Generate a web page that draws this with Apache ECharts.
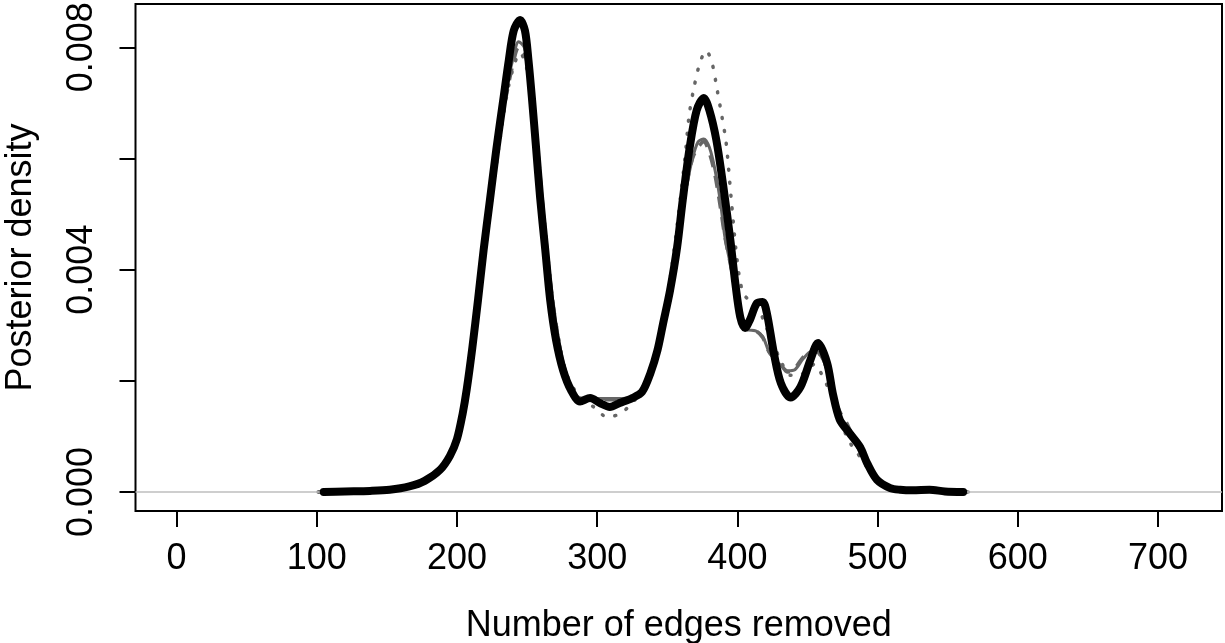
<!DOCTYPE html>
<html>
<head>
<meta charset="utf-8">
<script src="https://cdn.jsdelivr.net/npm/echarts@6/dist/echarts.min.js"></script>
<style>
  html, body { margin: 0; padding: 0; background: #fff; }
  #chart { width: 1225px; height: 643px; }
</style>
</head>
<body>
<div id="chart"></div>
<script>
// posterior density of number of edges removed — four estimates, one bold

// ── data ────────────────────────────────────────────────────────────
const xTicks  = [0, 100, 200, 300, 400, 500, 600, 700];
const yTicks  = [0, 0.002, 0.004, 0.006, 0.008];
const yLabels = [0, 0.004, 0.008];

// bold black curve
const boldCurve = [
  [105, 0], [120, 0.00001], [138, 0.00002], [152, 0.00004], [166, 0.0001],
  [177, 0.0002], [188, 0.0004], [195, 0.00065], [200, 0.00095], [204, 0.0014],
  [207, 0.00185], [211, 0.0026], [215, 0.00345], [219, 0.00435], [223.5, 0.00525],
  [228, 0.00615], [233, 0.00705], [237, 0.00777], [240.5, 0.0083], [245, 0.00849],
  [248.5, 0.0083], [251, 0.00777], [253.6, 0.00705], [256.4, 0.0062], [259.3, 0.0053],
  [263, 0.00435], [266.5, 0.00345], [270.7, 0.00273], [275.7, 0.00219], [281.4, 0.00183],
  [287.8, 0.00163], [295, 0.00169], [302, 0.0016], [309, 0.00153],
  [316, 0.0016], [325, 0.00169], [332, 0.0018], [338, 0.00214], [343, 0.00255],
  [347, 0.00303], [352, 0.00363], [357, 0.0044], [361, 0.00525], [366, 0.0062],
  [371, 0.00687], [376, 0.00709], [380, 0.00687], [385, 0.00633], [390, 0.00549],
  [395, 0.00453], [398.5, 0.00376], [402, 0.00315], [405.5, 0.00295], [409, 0.0031],
  [414, 0.0034], [418, 0.00342], [421, 0.00322], [426, 0.0025], [431, 0.00196],
  [438, 0.0017], [445, 0.00189], [452, 0.00237], [457.5, 0.00268], [464, 0.00232],
  [468, 0.00178], [473, 0.0013], [480, 0.00106], [487.5, 0.00081], [492.5, 0.00052],
  [499.5, 0.00022], [509, 0.00007], [516, 0.00004], [525, 0.00003], [537, 0.00004],
  [548, 0.00001], [561, 0],
];

// thin grey solid curve
const greySolid = [
  [101, 0], [120, 0.00001], [140, 0.00002], [155, 0.00005], [168, 0.00011],
  [178, 0.00022], [188, 0.00042], [195, 0.0007], [200, 0.001], [205, 0.0016],
  [210, 0.0025], [215, 0.0035], [220, 0.0045], [225, 0.0055], [230, 0.0064],
  [235, 0.0072], [240, 0.0078], [244, 0.0081], [248, 0.008], [252, 0.0075],
  [256, 0.0066], [260, 0.0055], [264, 0.0044], [268, 0.0035], [272, 0.0028],
  [276, 0.0023], [281, 0.0019], [287, 0.0017], [295, 0.00168], [305, 0.00168],
  [315, 0.00168], [325, 0.0017], [332, 0.0018], [338, 0.00212], [343, 0.00253],
  [348, 0.0031], [353, 0.0038], [358, 0.0046], [363, 0.0054], [368, 0.006],
  [372, 0.0063], [376, 0.00635], [380, 0.0062], [384, 0.0058], [388, 0.0052],
  [391, 0.0046], [395, 0.0041], [399, 0.0036], [403, 0.0031], [407, 0.00292],
  [413, 0.0029], [418, 0.0028], [423, 0.0025], [430, 0.0023], [436, 0.00218],
  [441, 0.0022], [447, 0.0024], [453, 0.00253], [458, 0.0025], [464, 0.0022],
  [469, 0.0017], [474, 0.0013], [480, 0.0011], [487, 0.0008], [493, 0.0005],
  [500, 0.00022], [510, 0.00007], [520, 0.00004], [535, 0.00004], [550, 0.00001],
  [565, 0],
];

// grey dashed curve
const greyDashed = [
  [101, 0], [120, 0.00001], [140, 0.00002], [155, 0.00005], [168, 0.0001],
  [178, 0.0002], [188, 0.0004], [195, 0.00068], [200, 0.001], [205, 0.0016],
  [210, 0.0025], [215, 0.0035], [220, 0.0045], [225, 0.0055], [230, 0.0064],
  [235, 0.0071], [240, 0.0077], [244, 0.008], [248, 0.0079], [252, 0.0075],
  [256, 0.0066], [260, 0.0055], [264, 0.0044], [268, 0.0035], [272, 0.0028],
  [276, 0.0023], [281, 0.0019], [287, 0.0017], [295, 0.0017], [305, 0.00166],
  [315, 0.00166], [325, 0.0017], [332, 0.0018], [338, 0.00212], [343, 0.00253],
  [348, 0.0031], [353, 0.0038], [358, 0.0046], [363, 0.0054], [368, 0.006],
  [372, 0.0062], [376, 0.0063], [380, 0.0061], [384, 0.0057], [388, 0.0051],
  [391, 0.0046], [395, 0.0041], [399, 0.0036], [403, 0.0031], [407, 0.00292],
  [413, 0.0029], [418, 0.00278], [423, 0.0025], [430.5, 0.00232], [435.5, 0.00216],
  [440, 0.0022], [447, 0.00243], [453, 0.00255], [458, 0.0025], [464, 0.0022],
  [469, 0.0017], [474, 0.0014], [478, 0.00124], [484, 0.0009], [490, 0.0006],
  [498, 0.00025], [510, 0.00007], [520, 0.00004], [535, 0.00004], [550, 0.00001],
  [565, 0],
];

// grey dotted curve
const greyDotted = [
  [101, 0], [120, 0.00001], [140, 0.00002], [155, 0.00005], [168, 0.0001],
  [178, 0.0002], [188, 0.0004], [196, 0.0007], [201, 0.001], [206, 0.0016],
  [211, 0.0025], [216, 0.0035], [221, 0.0045], [226, 0.0055], [231, 0.0064],
  [236, 0.0072], [241, 0.0077], [245, 0.0079], [249, 0.0077], [253, 0.0071],
  [257, 0.0062], [261, 0.0052], [265, 0.0042], [269, 0.0033], [273, 0.0027],
  [277, 0.0022], [284, 0.00183], [291, 0.00165], [298.6, 0.00151], [307, 0.00135],
  [315.6, 0.0014], [323.5, 0.00156], [331, 0.0018], [338, 0.0022], [343, 0.0026],
  [348, 0.0032], [353, 0.004], [358, 0.005], [362.7, 0.00603], [365.6, 0.00678],
  [369, 0.00727], [373.4, 0.00773], [377.7, 0.00794], [381.9, 0.00772], [385.6, 0.00723],
  [389, 0.00675], [392, 0.00628], [395.5, 0.0053], [399.8, 0.00417], [404, 0.00358],
  [409.8, 0.00342], [415, 0.0033], [420, 0.003], [425.5, 0.00268], [432, 0.0023],
  [438, 0.0021], [444, 0.0021], [450, 0.0022], [455, 0.0023], [461, 0.00207],
  [466, 0.0018], [471, 0.00147], [479, 0.00094], [485, 0.00072], [491, 0.0005],
  [499, 0.0002], [510, 0.00007], [520, 0.00004], [535, 0.00004], [550, 0.00001],
  [565, 0],
];

// ── chart ────────────────────────────────────────────────────────────
const FONT = "'Liberation Sans', Arial, Helvetica, sans-serif";
const ink  = '#000000';
const grey = '#666666';

const chart = echarts.init(document.getElementById('chart'), null, { renderer: 'canvas' });

const greyLine = (name, data, lineStyle, extra) => Object.assign({
  name, type: 'line', data, smooth: 0.3, symbol: 'none', z: 2,
  lineStyle: Object.assign({ color: grey, width: 3, cap: 'round', join: 'round' }, lineStyle),
}, extra || {});

chart.setOption({
  backgroundColor: '#ffffff', animation: false,
  textStyle: { fontFamily: FONT },
  grid: {
    left: 135.5, right: 3, top: 4, bottom: 132,
    show: true, borderColor: ink, borderWidth: 2, backgroundColor: 'transparent',
    containLabel: false, outerBoundsMode: 'none',
  },
  xAxis: {
    type: 'value', min: -29.24, max: 745.6,
    name: 'Number of edges removed', nameLocation: 'middle', nameGap: 97, nameMoveOverlap: false,
    nameTextStyle: { color: ink, fontSize: 36, fontFamily: FONT },
    axisLine: { show: false, onZero: false },
    axisTick: { show: true, inside: false, length: 16, customValues: xTicks,
                lineStyle: { color: ink, width: 2 } },
    axisLabel: { show: true, customValues: xTicks, margin: 30,
                 color: ink, fontSize: 36, fontFamily: FONT },
    splitLine: { show: false },
  },
  yAxis: {
    type: 'value', min: -0.000342, max: 0.008779,
    name: 'Posterior density', nameLocation: 'middle', nameGap: 96, nameRotate: 90, nameMoveOverlap: false,
    nameTextStyle: { color: ink, fontSize: 36, fontFamily: FONT },
    axisLine: { show: false, onZero: false },
    axisTick: { show: true, inside: false, length: 16, customValues: yTicks,
                lineStyle: { color: ink, width: 2 } },
    axisLabel: { show: true, customValues: yLabels, rotate: 90, margin: 35,
                 color: ink, fontSize: 36, fontFamily: FONT,
                 formatter: v => (+v).toFixed(3) },
    splitLine: { show: false },
  },
  series: [
    greyLine('grey solid', greySolid, { width: 3 }, {
      markLine: {
        silent: true, symbol: 'none', label: { show: false },
        lineStyle: { color: '#bebebe', type: 'solid', width: 1.5 },
        data: [{ yAxis: 0 }],
      },
    }),
    greyLine('grey dashed', greyDashed, { width: 3.5, type: [12, 9], cap: 'butt' }),
    greyLine('grey dotted', greyDotted, { width: 3.5, type: [1, 12] }),
    {
      name: 'bold', type: 'line', data: boldCurve, smooth: 0.3, symbol: 'none', z: 5,
      lineStyle: { color: ink, width: 8, cap: 'round', join: 'round' },
    },
  ],
});
</script>
</body>
</html>
